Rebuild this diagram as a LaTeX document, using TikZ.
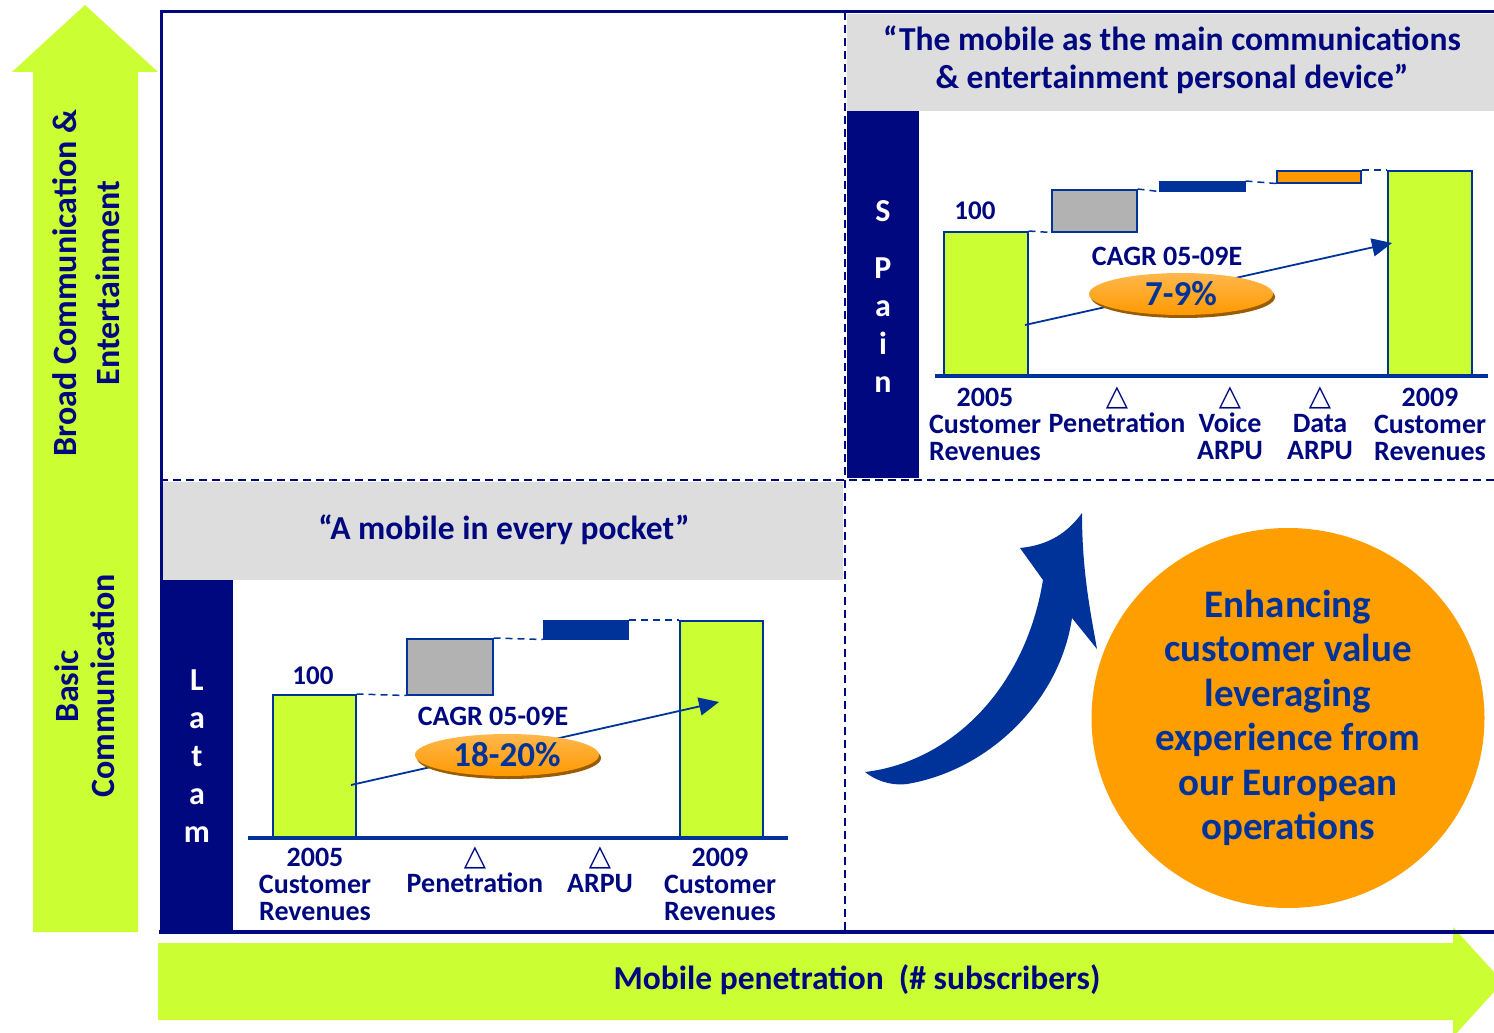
\documentclass[tikz,border=0pt]{standalone}
\usepackage{fontspec}
\setmainfont{Carlito}
\newfontfamily\trifont{DejaVu Sans}
\usepackage{xcolor}
\definecolor{tnavy}{RGB}{0,8,128}
\definecolor{tblue}{RGB}{0,51,153}
\definecolor{tlime}{RGB}{204,255,51}
\definecolor{tgray}{RGB}{221,221,221}
\definecolor{tbargray}{RGB}{178,178,178}
\definecolor{torange}{RGB}{255,153,0}
\definecolor{tcircle}{RGB}{255,158,0}
\usetikzlibrary{arrows.meta, shapes.geometric, shadows}

\newcommand{\dlt}{{\trifont\bfseries\fontsize{29}{25}\selectfont △}}

\tikzset{
  bar/.style={rectangle, draw=tblue, line width=1.5pt, inner sep=0pt, anchor=north west},
  stepline/.style={tblue, line width=1.5pt, dash pattern=on 7pt off 5pt},
  catlbl/.style={font=\fontsize{28}{27}\selectfont\bfseries, text=tnavy, align=center},
  headlbl/.style={font=\fontsize{33.5}{38}\selectfont\bfseries, text=tnavy, align=center},
  sidechar/.style={font=\fontsize{32}{32}\selectfont\bfseries, text=white, anchor=base},
  cagr/.style={ellipse, inner sep=0pt, minimum width=184pt, minimum height=42pt,
    top color=torange!70!white, middle color=torange, bottom color=torange,
    drop shadow={shadow xshift=2pt, shadow yshift=-3pt, fill=torange!60!black, opacity=1},
    font=\fontsize{35}{35}\selectfont\bfseries, text=tblue},
  growth/.style={tblue, line width=1.8pt, -{Triangle[length=20pt, width=18pt]}}
}

\begin{document}
\begin{tikzpicture}[x=1pt, y=-1pt]
  \useasboundingbox (0,0) rectangle (1494,1033);

  % axis arrows
  \fill[tlime] (33,932) -- (33,72) -- (12,72) -- (85,5) -- (158,72) -- (138,72) -- (138,932) -- cycle;
  \fill[tlime] (158,943) -- (1453,943) -- (1453,927) -- (1503,982) -- (1453,1037)
       -- (1453,1020) -- (158,1020) -- cycle;
  \node[headlbl, font=\fontsize{34}{43}\selectfont\bfseries, rotate=90] (ybroad) at (86,283)
       {Broad\ Communication \&\\Entertainment};
  \node[headlbl, font=\fontsize{34}{36}\selectfont\bfseries, rotate=90] (ybasic) at (85,686)
       {Basic\\Communication};
  \node[headlbl, font=\fontsize{33.5}{30}\selectfont\bfseries] (xlbl) at (857,980)
       {Mobile penetration\ \ (\# subscribers)};

  % Spain panel
  \fill[tgray] (847,14) rectangle (1494,111);
  \node[headlbl] (spainhead) at (1172,60)
       {“The mobile as the main communications\\\& entertainment personal device”};
  \fill[tnavy] (847,111) rectangle (919,478);
  \foreach \ch/\yy [count=\k] in {S/221, P/278, a/316, i/354, n/392}
    \node[sidechar] (spain\k) at (883,\yy) {\ch};

  \node[bar, fill=tlime, minimum width=84pt, minimum height=145pt] (s1) at (943,231) {};
  \node[bar, fill=tbargray, minimum width=85pt, minimum height=42pt] (s2) at (1051,189) {};
  \node[bar, fill=tblue, minimum width=85pt, minimum height=9pt] (s3) at (1159,181) {};
  \node[bar, fill=torange, minimum width=84pt, minimum height=12pt] (s4) at (1276,170) {};
  \node[bar, fill=tlime, minimum width=84pt, minimum height=206pt] (s5) at (1387,170) {};
  \draw[stepline] (s1.north east) -- (s2.south west);
  \draw[stepline] (s2.north east) -- (s3.south west);
  \draw[stepline] (s3.north east) -- (s4.south west);
  \draw[stepline] (s4.north east) -- (s5.north west);
  \draw[tblue, line width=4pt] (935,376) -- (1488,376);

  \node[catlbl, font=\fontsize{27}{27}\selectfont\bfseries] (s100) at (975,211) {100};
  \node[catlbl] (scagr) at (1167,256) {CAGR 05-09E};
  \coordinate (sfrom) at (1025,325);
  \coordinate (sto) at (1392,243);
  \draw[growth] (sfrom) -- (sto);
  \node[cagr] (srate) at (1181,294) {7-9\%};

  \node[catlbl] (sx1) at (985,424) {2005\\Customer\\Revenues};
  \node[catlbl] (sx2) at (1117,410) {\dlt\\Penetration};
  \node[catlbl] (sx3) at (1230,423) {\dlt\\Voice\\ARPU};
  \node[catlbl] (sx4) at (1320,423) {\dlt\\Data\\ARPU};
  \node[catlbl] (sx5) at (1430,424) {2009\\Customer\\Revenues};

  % Latam panel
  \fill[tgray] (162,482) rectangle (843,580);
  \node[headlbl] (latamhead) at (504,530) {“A mobile in every pocket”};
  \fill[tnavy] (162,580) rectangle (233,930);
  \foreach \ch/\yy [count=\k] in {L/690, a/728, t/766, a/804, m/842}
    \node[sidechar] (latam\k) at (197,\yy) {\ch};

  \node[bar, fill=tlime, minimum width=83pt, minimum height=144pt] (l1) at (272,694) {};
  \node[bar, fill=tbargray, minimum width=86pt, minimum height=56pt] (l2) at (406,638) {};
  \node[bar, fill=tblue, minimum width=84pt, minimum height=18pt] (l3) at (543,620) {};
  \node[bar, fill=tlime, minimum width=83pt, minimum height=218pt] (l4) at (679,620) {};
  \draw[stepline] (l1.north east) -- (l2.south west);
  \draw[stepline] (l2.north east) -- (l3.south west);
  \draw[stepline] (l3.north east) -- (l4.north west);
  \draw[tblue, line width=4pt] (248,838) -- (788,838);

  \node[catlbl, font=\fontsize{27}{27}\selectfont\bfseries] (l100) at (313,676) {100};
  \node[catlbl] (lcagr) at (493,716) {CAGR 05-09E};
  \coordinate (lfrom) at (351,785);
  \coordinate (lto) at (719,702);
  \draw[growth] (lfrom) -- (lto);
  \node[cagr] (lrate) at (507,755) {18-20\%};

  \node[catlbl] (lx1) at (315,884) {2005\\Customer\\Revenues};
  \node[catlbl] (lx2) at (475,870) {\dlt\\Penetration};
  \node[catlbl] (lx3) at (600,870) {\dlt\\ARPU};
  \node[catlbl] (lx4) at (720,884) {2009\\Customer\\Revenues};

  % curved arrow and value circle
  \fill[tblue] (865,772) .. controls (950,762) and (1025,690) .. (1043,580)
       -- (1020,548) .. controls (1050,545) and (1068,532) .. (1082,513)
       .. controls (1082,570) and (1090,610) .. (1097,649)
       -- (1072,618) .. controls (1060,700) and (990,770) .. (907,784)
       .. controls (890,786) and (875,780) .. (865,772) -- cycle;
  \node[ellipse, fill=tcircle, minimum width=393pt, minimum height=380pt, inner sep=0pt,
        font=\fontsize{39}{44.5}\selectfont\bfseries, text=tblue, align=center] (hub) at (1288,718)
       {Enhancing\\customer value\\leveraging\\experience from\\our European\\operations};

  % frame and dividers
  \draw[tnavy, line width=1.8pt, dash pattern=on 8pt off 5pt] (845,12) -- (845,932);
  \draw[tnavy, line width=1.8pt, dash pattern=on 8pt off 5pt] (160,480) -- (1494,480);
  \draw[tnavy, line width=3pt] (1496,12) -- (161,12) -- (161,932);
  \draw[tnavy, line width=4pt] (159,932) -- (1496,932);
\end{tikzpicture}
\end{document}
